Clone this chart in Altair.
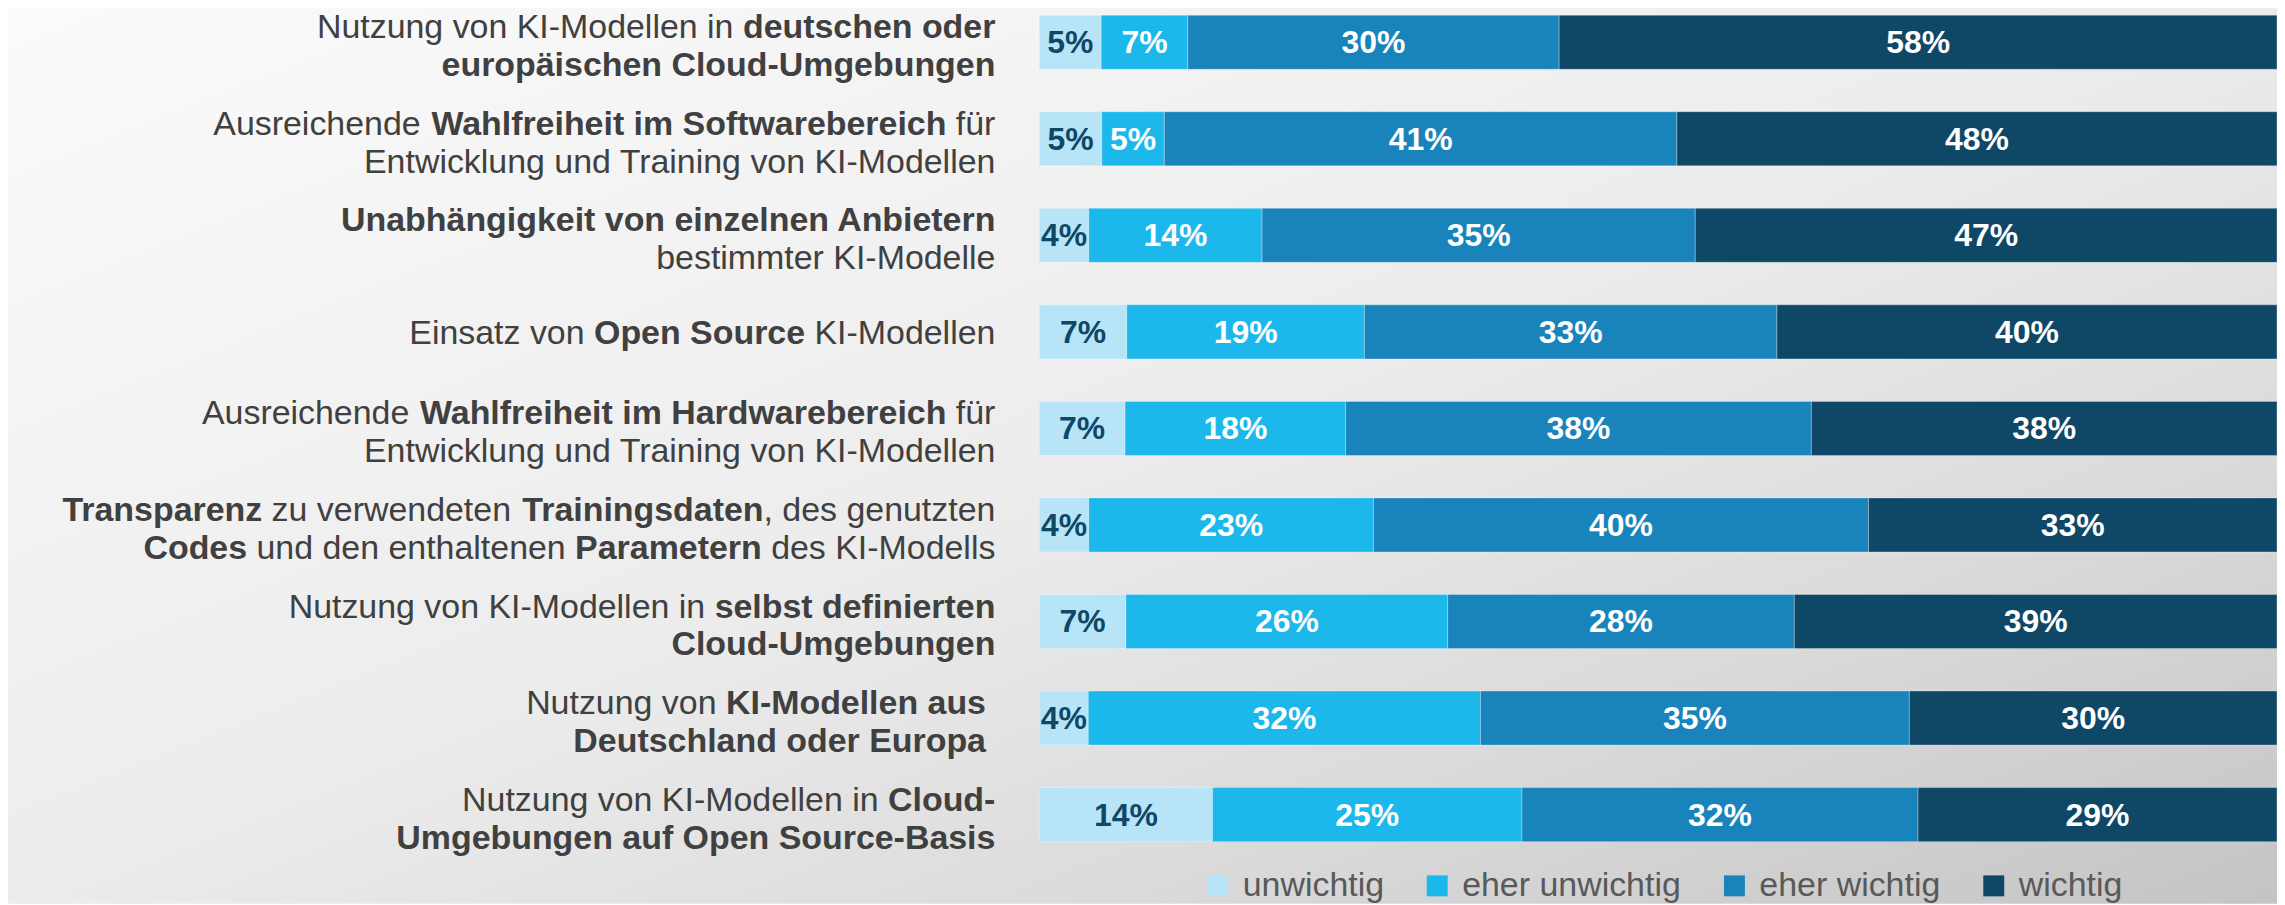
import altair as alt
import pandas as pd

# ---------------- data ----------------
labels = [
    "Nutzung von KI-Modellen in **deutschen oder**|**europäischen Cloud-Umgebungen**",
    "Ausreichende **Wahlfreiheit im Softwarebereich** für|Entwicklung und Training von KI-Modellen",
    "**Unabhängigkeit von einzelnen Anbietern**|bestimmter KI-Modelle",
    "Einsatz von **Open Source** KI-Modellen",
    "Ausreichende **Wahlfreiheit im Hardwarebereich** für|Entwicklung und Training von KI-Modellen",
    "**Transparenz** zu verwendeten **Trainingsdaten**, des genutzten|**Codes** und den enthaltenen **Parametern** des KI-Modells",
    "Nutzung von KI-Modellen in **selbst definierten**|**Cloud-Umgebungen**",
    "Nutzung von **KI-Modellen aus** |**Deutschland oder Europa** ",
    "Nutzung von KI-Modellen in **Cloud-**|**Umgebungen auf Open Source-Basis**",
]
levels = ["unwichtig", "eher unwichtig", "eher wichtig", "wichtig"]
unwichtig = [5, 5, 4, 7, 7, 4, 7, 4, 14]
eher_unwichtig = [7, 5, 14, 19, 18, 23, 26, 32, 25]
eher_wichtig = [30, 41, 35, 33, 38, 40, 28, 35, 32]
wichtig = [58, 48, 47, 40, 38, 33, 39, 30, 29]
colors = ["#b7e5f7", "#1cb8ec", "#1984bb", "#0f4767"]

# ---------------- layout constants ----------------
W, H = 1241, 851
FONT = "Liberation Sans"
LABEL_SIZE = 34
LABEL_RIGHT = -44
TEXT_COLOR = "#404040"

cats = [l.replace("**", "").replace("|", " ").strip() for l in labels]

rows = []
for ci, cat in enumerate(cats):
    for li, (lev, arr) in enumerate(zip(levels, [unwichtig, eher_unwichtig, eher_wichtig, wichtig])):
        rows.append({"cat": cat, "level": lev, "order": li, "value": arr[ci]})
df = pd.DataFrame(rows)

# Liberation Sans (Arial-compatible) advance widths, 1/1000 em
REG = {' ': 278, '-': 333, ',': 278, 'a': 556, 'b': 556, 'c': 500, 'd': 556, 'e': 556, 'f': 278,
       'g': 556, 'h': 556, 'i': 222, 'j': 222, 'k': 500, 'l': 222, 'm': 833, 'n': 556, 'o': 556,
       'p': 556, 'q': 556, 'r': 333, 's': 500, 't': 278, 'u': 556, 'v': 500, 'w': 722, 'x': 500,
       'y': 500, 'z': 500, 'ä': 556, 'ü': 556, 'ö': 556, 'A': 667, 'B': 667, 'C': 722, 'D': 722,
       'E': 667, 'F': 611, 'G': 778, 'H': 722, 'I': 278, 'J': 500, 'K': 667, 'L': 556, 'M': 833,
       'N': 722, 'O': 778, 'P': 667, 'R': 722, 'S': 667, 'T': 611, 'U': 722, 'V': 667, 'W': 944}
BOLD = {' ': 278, '-': 333, ',': 278, 'a': 556, 'b': 611, 'c': 556, 'd': 611, 'e': 556, 'f': 333,
        'g': 611, 'h': 611, 'i': 278, 'j': 278, 'k': 556, 'l': 278, 'm': 889, 'n': 611, 'o': 611,
        'p': 611, 'q': 611, 'r': 389, 's': 556, 't': 333, 'u': 611, 'v': 556, 'w': 778, 'x': 556,
        'y': 556, 'z': 500, 'ä': 556, 'ü': 611, 'ö': 611, 'A': 722, 'B': 722, 'C': 722, 'D': 722,
        'E': 667, 'F': 611, 'G': 778, 'H': 722, 'I': 278, 'J': 556, 'K': 722, 'L': 611, 'M': 833,
        'N': 722, 'O': 778, 'P': 667, 'R': 722, 'S': 667, 'T': 611, 'U': 722, 'V': 667, 'W': 944}


def tw(s, bold):
    t = BOLD if bold else REG
    return sum(t.get(ch, 556) for ch in s) / 1000.0 * LABEL_SIZE


SP = 278 / 1000.0 * LABEL_SIZE
segs = []
for cat, lab in zip(cats, labels):
    lines = lab.split("|")
    dys = [12] if len(lines) == 1 else [-4, 34]
    for line, dy in zip(lines, dys):
        parts = [(p, i % 2 == 1) for i, p in enumerate(line.split("**")) if p]
        cur = LABEL_RIGHT
        for txt, b in reversed(parts):
            core = txt.strip(" ")
            if not core:
                cur -= len(txt) * SP
                continue
            cur -= (len(txt) - len(txt.rstrip(" "))) * SP
            segs.append({"cat": cat, "text": core, "bold": b, "xpx": cur, "dy": dy})
            cur -= tw(core, b)
            cur -= (len(txt) - len(txt.lstrip(" "))) * SP
seg_df = pd.DataFrame(segs)

# ---------------- chart ----------------
yscale = alt.Scale(domain=cats, paddingInner=0.44, paddingOuter=0.1157, align=0.27)
yaxis = alt.Axis(title=None, labels=False, ticks=False, grid=False, domain=True,
                 domainColor="#bfbfbf", domainWidth=3, offset=1)
xscale = alt.Scale(domain=[0, 1], nice=False, zero=False)

bg = alt.Chart(alt.Data(values=[{}])).mark_rect(
    fill=alt.LinearGradient(
        gradient="linear", x1=0, y1=0, x2=1, y2=1,
        stops=[alt.GradientStop(color="#fbfbfb", offset=0),
               alt.GradientStop(color="#ececec", offset=0.5),
               alt.GradientStop(color="#dadada", offset=0.75),
               alt.GradientStop(color="#c4c4c4", offset=1)]),
    strokeWidth=0,
).encode(x=alt.value(-1042), x2=alt.value(W + 2), y=alt.value(-8), y2=alt.value(H + 46))

stacked = alt.Chart(df).transform_stack(
    stack="value", groupby=["cat"], as_=["v0", "v1"], offset="normalize",
    sort=[alt.SortField("order", order="ascending")],
).transform_calculate(mid="(datum.v0 + datum.v1) / 2")

bars = stacked.mark_bar(stroke="#ffffff", strokeWidth=1, strokeOpacity=0.3).encode(
    y=alt.Y("cat:N", scale=yscale, axis=yaxis),
    x=alt.X("v0:Q", scale=xscale, axis=None),
    x2="v1:Q",
    color=alt.Color("level:N", scale=alt.Scale(domain=levels, range=colors),
                    legend=alt.Legend(title=None, orient="none", direction="horizontal",
                                      legendX=162, legendY=862, symbolType="square",
                                      symbolSize=441, symbolStrokeWidth=0, labelFont=FONT,
                                      labelFontSize=34, labelColor="#595959", labelOffset=8,
                                      columnPadding=36, padding=0, labelLimit=400)),
)

values = stacked.mark_text(font=FONT, fontSize=32, fontWeight="bold", baseline="middle",
                           align="center", dy=1).encode(
    y=alt.Y("cat:N", scale=yscale, axis=yaxis),
    x=alt.X("mid:Q", scale=xscale, axis=None),
    text=alt.Text("label:N"),
    color=alt.condition(alt.datum.level == "unwichtig", alt.value("#0f4767"), alt.value("#ffffff")),
).transform_calculate(label="datum.value + '%'")

lab_text = alt.Chart(seg_df).mark_text(
    font=FONT, fontSize=LABEL_SIZE, color=TEXT_COLOR, align="right", baseline="alphabetic",
    fontWeight=alt.expr("datum.bold ? 'bold' : 'normal'"), dy=alt.expr("datum.dy"),
).encode(
    y=alt.Y("cat:N", scale=yscale, axis=yaxis),
    x=alt.X("xpx:Q", scale=None, axis=None),
    text="text:N",
)

chart = alt.layer(bg, bars, values, lab_text).resolve_scale(x="independent").properties(
    width=W, height=H,
    autosize=alt.AutoSizeParams(type="none"),
    padding={"left": 1034, "top": 0, "right": 0, "bottom": 46},
    background="#ffffff",
).configure_view(stroke=None)

chart.save("out.html", embed_options={"renderer": "svg", "actions": False})
